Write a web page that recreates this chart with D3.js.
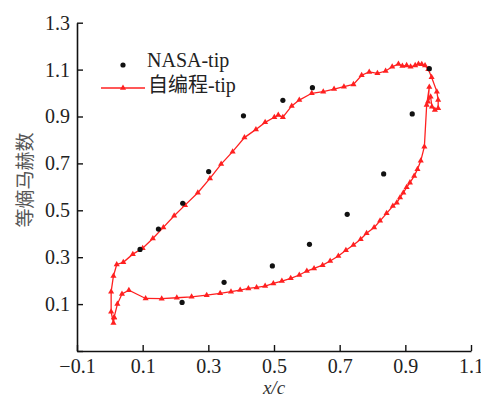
<!DOCTYPE html>
<html lang="zh">
<head>
<meta charset="UTF-8">
<title>等熵马赫数</title>
<script src="https://cdn.jsdelivr.net/npm/d3@7"></script>
<style>
  body { margin: 0; background: #fff; }
  svg { display: block; }
</style>
</head>
<body>
<svg id="chart" width="481" height="397"></svg>
<script>
// NASA experiment points (x/c, isentropic Mach)
const nasaX = [0.092, 0.148, 0.222, 0.301, 0.407, 0.527, 0.617, 0.973, 0.921, 0.834, 0.723, 0.608, 0.495, 0.348, 0.220]
const nasaY = [0.333, 0.420, 0.530, 0.665, 0.903, 0.969, 1.023, 1.104, 0.911, 0.655, 0.483, 0.355, 0.263, 0.193, 0.107]

// in-house solver, one loop: lower surface -> trailing edge -> upper surface -> leading edge
const calcX = [
  0.013, 0.023, 0.037, 0.058, 0.109, 0.158, 0.204, 0.249, 0.295, 0.336, 0.369, 0.397, 0.422, 0.447,
  0.473, 0.498, 0.524, 0.551, 0.577, 0.600, 0.622, 0.648, 0.671, 0.696, 0.719, 0.742, 0.764, 0.782,
  0.805, 0.823, 0.843, 0.862, 0.874, 0.884, 0.894, 0.904, 0.914, 0.927, 0.937, 0.947, 0.958,
  0.965, 0.973, 0.969, 0.977, 0.981, 0.990, 1.000,
  1.000, 0.996, 0.980, 0.970, 0.960, 0.950, 0.940, 0.930, 0.916, 0.904, 0.891, 0.879, 0.860, 0.840,
  0.815, 0.790, 0.767, 0.742, 0.713, 0.683, 0.650, 0.615, 0.577, 0.554, 0.527, 0.513, 0.501, 0.473,
  0.445, 0.410, 0.374, 0.339, 0.305, 0.268, 0.229, 0.196, 0.163, 0.131, 0.100, 0.070, 0.041, 0.021,
  0.011, 0.004, 0.004, 0.011, 0.013
]
const calcY = [
  0.043, 0.100, 0.143, 0.159, 0.124, 0.123, 0.127, 0.131, 0.138, 0.146, 0.153, 0.160, 0.167, 0.171,
  0.177, 0.188, 0.198, 0.210, 0.224, 0.241, 0.252, 0.266, 0.284, 0.305, 0.330, 0.352, 0.377, 0.402,
  0.427, 0.455, 0.487, 0.518, 0.532, 0.555, 0.575, 0.598, 0.618, 0.646, 0.675, 0.711, 0.771,
  0.949, 1.026, 0.963, 0.984, 0.942, 0.928, 0.935,
  0.970, 1.006, 1.067, 1.101, 1.117, 1.123, 1.124, 1.118, 1.112, 1.118, 1.115, 1.124, 1.112, 1.094,
  1.084, 1.090, 1.076, 1.037, 1.027, 1.017, 1.006, 0.999, 0.970, 0.945, 0.897, 0.906, 0.897, 0.875,
  0.845, 0.810, 0.750, 0.697, 0.636, 0.575, 0.522, 0.477, 0.427, 0.380, 0.338, 0.313, 0.278, 0.269,
  0.220, 0.153, 0.067, 0.019, 0.043
]

const xTicks = [-0.1, 0.1, 0.3, 0.5, 0.7, 0.9, 1.1]
const yTicks = [-0.1, 0.1, 0.3, 0.5, 0.7, 0.9, 1.1, 1.3]

const red = '#ff2020'
const serif = '"Liberation Serif", "Times New Roman", serif'

const svg = d3.select('#chart')

const x = d3.scaleLinear().domain([-0.1, 1.1]).range([77, 471])
const y = d3.scaleLinear().domain([-0.1, 1.3]).range([351, 22.7])

// axes, ticks pointing inward
const xAxis = svg.append('g')
  .attr('transform', `translate(0,${y(-0.1)})`)
  .call(d3.axisBottom(x).tickValues(xTicks).tickSizeInner(-6).tickSizeOuter(0).tickPadding(8)
    .tickFormat(d3.format('.1f')))
const yAxis = svg.append('g')
  .attr('transform', `translate(${x(-0.1)},0)`)
  .call(d3.axisLeft(y).tickValues(yTicks).tickSizeInner(-6).tickSizeOuter(0).tickPadding(7)
    .tickFormat(d => d < 0 ? '' : d3.format('.1f')(d)))

for (const ax of [xAxis, yAxis]) {
  ax.select('.domain').attr('stroke', '#111').attr('stroke-width', 1.6)
  ax.selectAll('.tick line').attr('stroke', '#111').attr('stroke-width', 1.4)
  ax.selectAll('.tick text').attr('fill', '#222').style('font-family', serif).style('font-size', '20px')
}

// axis titles
svg.append('text')
  .attr('x', 274).attr('y', 394)
  .attr('text-anchor', 'middle')
  .style('font-family', serif).style('font-style', 'italic').style('font-size', '19px')
  .attr('fill', '#333')
  .text('x/c')

svg.append('text')
  .attr('transform', 'translate(32,180) rotate(-90)')
  .attr('text-anchor', 'middle')
  .style('font-family', '"Noto Sans CJK SC", sans-serif').style('font-size', '19px')
  .attr('fill', '#555')
  .text('等熵马赫数')

// calculated curve
const calc = calcX.map((v, i) => ({ x: v, y: calcY[i] }))
const line = d3.line().x(d => x(d.x)).y(d => y(d.y))

svg.append('path')
  .datum(calc)
  .attr('d', line)
  .attr('fill', 'none')
  .attr('stroke', red)
  .attr('stroke-width', 1.3)

const tri = d3.symbol(d3.symbolTriangle).size(16)
svg.append('g').selectAll('path')
  .data(calc)
  .join('path')
  .attr('transform', d => `translate(${x(d.x)},${y(d.y)})`)
  .attr('d', tri)
  .attr('fill', red)

// NASA points
svg.append('g').selectAll('circle')
  .data(nasaX.map((v, i) => ({ x: v, y: nasaY[i] })))
  .join('circle')
  .attr('cx', d => x(d.x))
  .attr('cy', d => y(d.y))
  .attr('r', 2.6)
  .attr('fill', '#111')

// legend
const legend = svg.append('g')
legend.append('circle').attr('cx', 123).attr('cy', 65).attr('r', 2.6).attr('fill', '#111')
legend.append('text')
  .attr('x', 147).attr('y', 67)
  .style('font-family', serif).style('font-size', '20px').attr('fill', '#222')
  .text('NASA-tip')
legend.append('line')
  .attr('x1', 101).attr('x2', 145).attr('y1', 88).attr('y2', 88)
  .attr('stroke', red).attr('stroke-width', 1.3)
legend.append('path')
  .attr('transform', 'translate(123,88)')
  .attr('d', tri).attr('fill', red)
legend.append('text')
  .attr('x', 148).attr('y', 92)
  .style('font-family', serif + ', "Noto Sans CJK SC"').style('font-size', '20px').attr('fill', '#222')
  .text('自编程-tip')
</script>
</body>
</html>
